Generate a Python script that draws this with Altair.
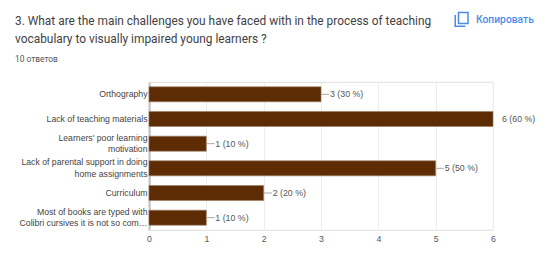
import altair as alt
import pandas as pd

categories = ["Orthography", "Lack of teaching materials", "Learners' poor learning|motivation",
              "Lack of parental support in doing|home assignments", "Curriculum",
              "Most of books are typed with|Colibri cursives it is not so com…"]
counts = [3, 6, 1, 5, 2, 1]
labels = ["3 (30 %)", "6 (60 %)", "1 (10 %)", "5 (50 %)", "2 (20 %)", "1 (10 %)"]
grid_ticks = [0, 0.5, 1, 1.5, 2, 2.5, 3, 3.5, 4, 4.5, 5, 5.5, 6]
title_lines = ["3. What are the main challenges you have faced with in the process of teaching",
               "vocabulary to visually impaired young learners ?"]
subtitle = "10 ответов"
copy_label = "Копировать"

OX, OY = 149, 82
df = pd.DataFrame({"cat": categories, "n": counts, "lab": labels})
x_scale = alt.Scale(domain=[0, 6], nice=False)
y_enc = alt.Y("cat:N", sort=categories, scale=alt.Scale(paddingInner=0.39, paddingOuter=0.195),
              axis=alt.Axis(title=None, ticks=False, domainColor="#9e9e9e", domainWidth=2,
                            labelExpr="split(datum.label,'|')", labelFont="Liberation Sans", labelFontSize=8.7,
                            labelColor="#444444", labelPadding=2, labelLineHeight=11.5, labelLimit=200,
                            labelOffset={"expr": "indexof(datum.value,'|') >= 0 ? -6 : 0"},
                            grid=False))
x_enc = alt.X("n:Q", scale=x_scale,
              axis=alt.Axis(title=None, values=grid_ticks, ticks=False, domain=False,
                            labelExpr="datum.value % 1 == 0 ? format(datum.value,'d') : ''",
                            labelFont="Liberation Sans", labelFontSize=8.7, labelColor="#555555",
                            labelFlush=False, labelOverlap=False,
                            labelPadding=4, gridColor={"expr": "datum.value % 1 == 0 ? '#eeeeee' : '#f6f6f6'"},
                            grid=True))

bars = alt.Chart(df).mark_bar(color="#5e2c04", stroke="#9b7d62", strokeWidth=0.6).encode(x=x_enc, y=y_enc)
leaders = (alt.Chart(df).transform_filter("datum.n < 6").transform_calculate(end="datum.n + 0.145")
           .mark_rule(color="#aaaaaa", strokeWidth=1)
           .encode(x=alt.X("n:Q", scale=x_scale), x2="end:Q", y=alt.Y("cat:N", sort=categories)))
texts = (alt.Chart(df).mark_text(align="left", baseline="middle", dx=9, font="Liberation Sans", fontSize=8.8,
                                 color="#555555")
         .encode(x=alt.X("n:Q", scale=x_scale), y=alt.Y("cat:N", sort=categories), text="lab:N"))
frame = (alt.Chart(pd.DataFrame({"a": [0]})).mark_rect(fill=None, stroke="#eeeeee", strokeWidth=1)
         .encode(x=alt.value(0), x2=alt.value(344), y=alt.value(0), y2=alt.value(148)))


def label(text, px, py, size, color, font="Roboto", weight=400):
    return (alt.Chart(pd.DataFrame({"t": [text]}))
            .mark_text(align="left", baseline="middle", font=font, fontSize=size, color=color, fontWeight=weight)
            .encode(x=alt.value(px - OX), y=alt.value(py - OY), text="t:N"))


def box(x0, y0, x1, y1, **kw):
    return (alt.Chart(pd.DataFrame({"a": [0]})).mark_rect(**kw)
            .encode(x=alt.value(x0 - OX), x2=alt.value(x1 - OX), y=alt.value(y0 - OY), y2=alt.value(y1 - OY)))


blue = "#4a8de8"
icon = [
    box(458.5, 12.5, 468, 23.5, fill=None, stroke=blue, strokeWidth=1.5),
    box(454.5, 15, 456, 27, fill=blue),
    box(454.5, 25.5, 465.5, 27, fill=blue),
]
header = [
    label(title_lines[0], 15, 20.5, 11.9, "#3f4245"),
    label(title_lines[1], 15, 38.5, 11.9, "#3f4245"),
    label(subtitle, 15, 58.5, 8.4, "#555555"),
    label(copy_label, 476, 20, 10.3, "#4a8de8", weight=500),
]

chart = alt.layer(frame, bars, leaders, texts, *header, *icon).properties(
    width=344, height=148,
    autosize=alt.AutoSizeParams(type="none"),
    padding={"left": 141, "top": 74, "right": 55, "bottom": 34},
).configure_view(stroke=None).configure(background="white")

chart.save("out.html", embed_options={"renderer": "svg", "actions": False})
